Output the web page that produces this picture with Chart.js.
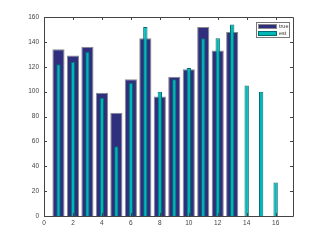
<!DOCTYPE html>
<html>
<head>
<meta charset="utf-8">
<script src="https://cdn.jsdelivr.net/npm/chart.js@4"></script>
<style>
  html, body { margin: 0; padding: 0; background: #fff; }
  #wrap { width: 324px; height: 243px; }
</style>
</head>
<body>
<div id="wrap"><canvas id="myChart" width="324" height="243"></canvas></div>
<script>
// data
var positions = [1, 2, 3, 4, 5, 6, 7, 8, 9, 10, 11, 12, 13, 14, 15, 16];
var trueVals = [134, 129, 136, 99, 83, 110, 143, 96, 112, 118, 152, 133, 148, null, null, null];
var estVals = [122, 124, 132, 95, 56, 107, 152, 100, 110, 119, 143, 143, 154, 105, 100, 27];
var xTicks = [0, 2, 4, 6, 8, 10, 12, 14, 16];
var yTicks = [0, 20, 40, 60, 80, 100, 120, 140, 160];

function pts(vals) {
    return positions.map(function(p, i) { return {x: p, y: vals[i]}; });
}

// MATLAB style box + inward ticks + legend
var matlabAxes = {
    id: 'matlabAxes',
    afterDraw: function(chart) {
        var c = chart.ctx, a = chart.chartArea;
        var xs = chart.scales.x, ys = chart.scales.y;
        c.save();
        c.strokeStyle = '#444';
        c.lineWidth = 1;
        c.beginPath();
        c.rect(Math.round(a.left) + 0.5, Math.round(a.top) + 0.5, Math.round(a.right - a.left), Math.round(a.bottom - a.top));
        xTicks.forEach(function(t) {
            var px = Math.round(xs.getPixelForValue(t)) + 0.5;
            c.moveTo(px, a.bottom); c.lineTo(px, a.bottom - 3);
            c.moveTo(px, a.top); c.lineTo(px, a.top + 3);
        });
        yTicks.forEach(function(t) {
            var py = Math.round(ys.getPixelForValue(t)) + 0.5;
            c.moveTo(a.left, py); c.lineTo(a.left + 3, py);
            c.moveTo(a.right, py); c.lineTo(a.right - 3, py);
        });
        c.stroke();

        // legend
        var lx = 256.5, ly = 22.5, lw = 33, lh = 15;
        c.fillStyle = '#fff';
        c.fillRect(lx, ly, lw, lh);
        c.strokeStyle = '#777';
        c.strokeRect(lx, ly, lw, lh);
        var ds = chart.data.datasets;
        ds.forEach(function(d, i) {
            var sy = 24 + i * 7;
            c.fillStyle = d.backgroundColor;
            c.fillRect(258, sy, 19, 5);
            c.strokeStyle = d.borderColor;
            c.strokeRect(258.5, sy + 0.5, 18, 4);
            c.fillStyle = '#333';
            c.font = '5.5px "Liberation Sans", Arial, sans-serif';
            c.textBaseline = 'middle';
            c.textAlign = 'left';
            c.fillText(d.label, 279, sy + 2.5);
        });
        c.restore();
    }
};

var ctx = document.getElementById('myChart').getContext('2d');
var chart = new Chart(ctx, {
    type: 'bar',
    data: {
        datasets: [{
            label: 'true',
            data: pts(trueVals),
            backgroundColor: '#2f2f7e',
            borderColor: '#8a8a8a',
            borderWidth: 1,
            barPercentage: 0.84,
            categoryPercentage: 1,
            grouped: false,
            order: 2
        }, {
            label: 'est',
            data: pts(estVals),
            backgroundColor: '#00b7b7',
            borderColor: '#006e6e',
            borderWidth: 1,
            barPercentage: 0.3,
            categoryPercentage: 1,
            grouped: false,
            order: 1
        }]
    },
    options: {
        responsive: false,
        animation: false,
        layout: { padding: { top: 17, right: 31, left: 0, bottom: 0 } },
        plugins: { legend: { display: false }, tooltip: { enabled: false } },
        scales: {
            x: {
                type: 'linear',
                min: 0,
                max: 17.2,
                offset: false,
                grid: { display: false, drawTicks: false },
                border: { display: false },
                afterBuildTicks: function(s) { s.ticks = xTicks.map(function(v) { return {value: v}; }); },
                afterFit: function(s) { s.height = 27; },
                ticks: {
                    autoSkip: false,
                    maxRotation: 0,
                    padding: 3,
                    color: '#444',
                    font: { size: 6.5, family: '"Liberation Sans", Arial, sans-serif' }
                }
            },
            y: {
                min: 0,
                max: 160,
                grid: { display: false, drawTicks: false },
                border: { display: false },
                afterBuildTicks: function(s) { s.ticks = yTicks.map(function(v) { return {value: v}; }); },
                afterFit: function(s) { s.width = 44; },
                ticks: {
                    padding: 5,
                    color: '#444',
                    font: { size: 6.5, family: '"Liberation Sans", Arial, sans-serif' }
                }
            }
        }
    },
    plugins: [matlabAxes]
});
</script>
</body>
</html>
